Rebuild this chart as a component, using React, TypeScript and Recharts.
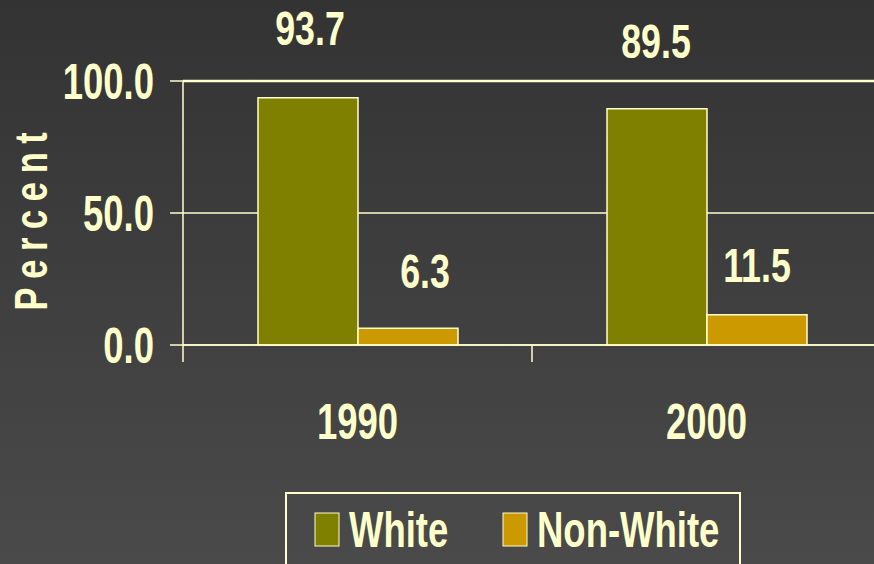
import { BarChart, Bar, XAxis, YAxis, CartesianGrid, LabelList, Legend, ReferenceLine } from "recharts";

const YEARS = ["1990", "2000"];
const WHITE = [93.7, 89.5];
const NON_WHITE = [6.3, 11.5];
const Y_TICKS = [0, 50, 100];
const SERIES_NAMES = ["White", "Non-White"];

const data = YEARS.map((year, i) => ({ year, white: WHITE[i], nonWhite: NON_WHITE[i] }));

const INK = "#FFFFCC";
const OLIVE = "#808000";
const GOLD = "#CC9900";
const FONT = "'Liberation Sans', Arial, sans-serif";
const SQUEEZE = 0.73; // the original uses a very condensed bold face

// per-bar nudges for the value labels (they sit a bit unevenly in the original)
const WHITE_NUDGE = [{ dx: 2, dy: -1 }, { dx: -1, dy: 0.5 }];
const NON_WHITE_NUDGE = [{ dx: 17, dy: -3.5 }, { dx: 0, dy: 3.4 }];

function valueLabel(lift: number, nudge: { dx: number; dy: number }[]) {
  return (props: any) => {
    const { x, y, width, value, index } = props;
    const n = nudge[index] ?? { dx: 0, dy: 0 };
    const cx = Number(x) + Number(width) / 2 + n.dx;
    const by = Number(y) - lift + n.dy;
    return (
      <text
        transform={`translate(${cx},${by}) scale(${SQUEEZE},1)`}
        textAnchor="middle"
        fill={INK}
        fontFamily={FONT}
        fontWeight="bold"
        fontSize={49}
      >
        {Number(value).toFixed(1)}
      </text>
    );
  };
}

function YTick(props: any) {
  const { x, y, payload } = props;
  return (
    <text
      transform={`translate(${x},${y + 18}) scale(${SQUEEZE},1)`}
      textAnchor="end"
      fill={INK}
      fontFamily={FONT}
      fontWeight="bold"
      fontSize={50}
    >
      {Number(payload.value).toFixed(1)}
    </text>
  );
}

function XTick(props: any) {
  const { x, y, payload, width, visibleTicksCount, index } = props;
  const band = Number(width) / Number(visibleTicksCount || 1);
  const half = band / 2;
  const top = y - 17;
  return (
    <g>
      <line x1={x - half} x2={x - half} y1={top} y2={y} stroke={INK} strokeWidth={1.5} />
      {index === visibleTicksCount - 1 && (
        <line x1={x + half} x2={x + half} y1={top} y2={y} stroke={INK} strokeWidth={1.5} />
      )}
      <text
        transform={`translate(${x},${y + 77}) scale(${SQUEEZE},1)`}
        textAnchor="middle"
        fill={INK}
        fontFamily={FONT}
        fontWeight="bold"
        fontSize={50}
      >
        {payload.value}
      </text>
    </g>
  );
}

function PercentLabel(props: any) {
  const vb = props.viewBox || { x: 0, y: 81, width: 183, height: 264 };
  const cx = vb.x + 47;
  const cy = vb.y + vb.height / 2 + 4;
  return (
    <text
      transform={`translate(${cx},${cy}) rotate(-90) scale(0.75,1)`}
      textAnchor="middle"
      fill={INK}
      fontFamily={FONT}
      fontWeight="bold"
      fontSize={46}
      style={{ letterSpacing: 11.5 }}
    >
      Percent
    </text>
  );
}

const LEGEND_SLOTS = [30, 218];

function renderLegend(props: any) {
  const payload = [...(props.payload || [])].sort(
    (a: any, b: any) => SERIES_NAMES.indexOf(a.value) - SERIES_NAMES.indexOf(b.value)
  );
  return (
    <svg width={456} height={80} style={{ display: "block" }}>
      <rect x={1} y={1} width={454} height={100} fill="none" stroke={INK} strokeWidth={2} />
      {payload.map((p: any, i: number) => (
        <g key={p.value}>
          <rect x={LEGEND_SLOTS[i]} y={21} width={24} height={33} fill={p.color} stroke={INK} strokeWidth={1} />
          <text
            transform={`translate(${LEGEND_SLOTS[i] + 34},55) scale(${SQUEEZE},1)`}
            fill={INK}
            fontFamily={FONT}
            fontWeight="bold"
            fontSize={50}
          >
            {p.value}
          </text>
        </g>
      ))}
    </svg>
  );
}

export default function App() {
  return (
    <div
      style={{
        position: "absolute",
        left: 0,
        top: 0,
        width: 874,
        height: 564,
        overflow: "hidden",
        background: "linear-gradient(180deg, #333333 0%, #4a4a4a 100%)",
      }}
    >
      <BarChart
        width={890}
        height={564}
        data={data}
        margin={{ top: 81, right: 9, bottom: 119, left: 0 }}
        barGap={0}
        barSize={100}
      >
        <CartesianGrid vertical={false} stroke={INK} strokeWidth={1.5} />
        <XAxis
          dataKey="year"
          height={100}
          axisLine={{ stroke: INK, strokeWidth: 1.5 }}
          tickLine={false}
          tickSize={17}
          tickMargin={0}
          tick={<XTick />}
          interval={0}
        />
        <YAxis
          width={183}
          domain={[0, 100]}
          ticks={Y_TICKS}
          axisLine={{ stroke: INK, strokeWidth: 1.5 }}
          tickLine={{ stroke: INK, strokeWidth: 1.5 }}
          tickSize={13}
          tickMargin={16}
          tick={<YTick />}
          label={{ value: "Percent", content: PercentLabel }}
        />
        <ReferenceLine y={100} stroke={INK} strokeWidth={2.5} />
        <Legend
          verticalAlign="middle"
          align="center"
          layout="horizontal"
          width={456}
          wrapperStyle={{ left: 285, top: 492, width: 456 }}
          content={renderLegend}
        />
        <Bar dataKey="white" name="White" fill={OLIVE} stroke={INK} strokeWidth={1.5} isAnimationActive={false}>
          <LabelList dataKey="white" content={valueLabel(51.5, WHITE_NUDGE)} />
        </Bar>
        <Bar dataKey="nonWhite" name="Non-White" fill={GOLD} stroke={INK} strokeWidth={1.5} isAnimationActive={false}>
          <LabelList dataKey="nonWhite" content={valueLabel(36.5, NON_WHITE_NUDGE)} />
        </Bar>
      </BarChart>
    </div>
  );
}
